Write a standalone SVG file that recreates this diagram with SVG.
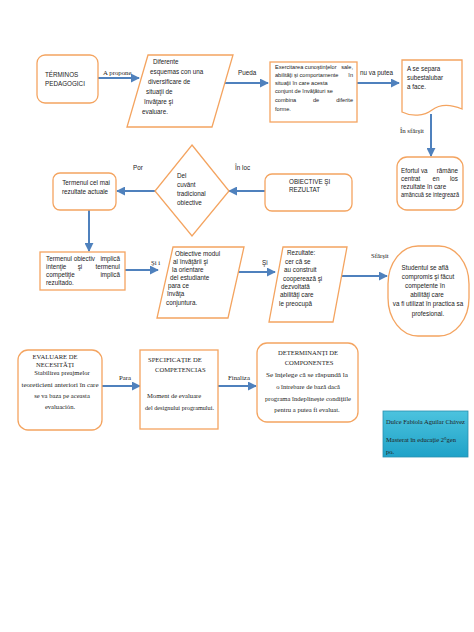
<svg xmlns="http://www.w3.org/2000/svg" width="474" height="632" viewBox="0 0 474 632">
<defs>
<marker id="ah" viewBox="0 0 10 10" refX="9" refY="5" markerWidth="4.5" markerHeight="4.5" orient="auto"><path d="M0,0 L10,5 L0,10 z" fill="#4F81BD"/></marker>
<linearGradient id="tg" x1="0" y1="0" x2="0" y2="1"><stop offset="0" stop-color="#4CC3DE"/><stop offset="1" stop-color="#1FA2C8"/></linearGradient>
</defs>
<style>
.n{fill:#ffffff;stroke:#F4A460;stroke-width:1.3}
.c{fill:none;stroke:#4F81BD;stroke-width:2;marker-end:url(#ah)}
.t{font-family:"Liberation Sans",Arial,sans-serif;font-size:6.3px;fill:#222}
.k{font-size:5.6px}
.e{text-anchor:end}
.m{text-anchor:middle}
.s{font-family:"Liberation Serif","Times New Roman",serif;font-size:6.6px;fill:#222}
.l{font-family:"Liberation Sans",Arial,sans-serif;font-size:6.3px;fill:#222}
.ls{font-family:"Liberation Serif","Times New Roman",serif;font-size:6.8px;fill:#222}
</style>
<rect width="474" height="632" fill="#ffffff"/>
<g id="connectors">
<line class="c" x1="98" y1="78" x2="139" y2="78"/>
<line class="c" x1="225" y1="83" x2="268" y2="83"/>
<line class="c" x1="357" y1="83" x2="399" y2="83"/>
<line class="c" x1="431" y1="114" x2="431" y2="156"/>
<line class="c" x1="265" y1="191" x2="229" y2="191"/>
<line class="c" x1="155" y1="191" x2="117" y2="191"/>
<line class="c" x1="89" y1="210" x2="89" y2="251"/>
<line class="c" x1="125" y1="270" x2="158" y2="270"/>
<line class="c" x1="238" y1="272" x2="275" y2="272"/>
<line class="c" x1="340" y1="276" x2="387" y2="276"/>
<line class="c" x1="102" y1="386" x2="140" y2="386"/>
<line class="c" x1="218" y1="386" x2="256" y2="386"/>
<text class="ls" x="103" y="75">A propone</text>
<text class="l" x="238" y="75">Pueda</text>
<text class="l" x="360" y="75">nu va putea</text>
<text class="ls" x="400" y="133">În sfârşit</text>
<text class="l" x="133" y="170">Por</text>
<text class="l" x="235" y="170">În loc</text>
<text class="ls" x="151" y="265">Şi i</text>
<text class="l" x="262" y="265">Şi</text>
<text class="ls" x="371" y="258">Sfârşit</text>
<text class="ls" x="119" y="380">Para</text>
<text class="ls" x="228" y="380">Finaliza</text>
</g>
<g id="n1"><rect class="n" x="37" y="55" width="61" height="48" rx="8"/>
<text class="t" x="45" y="77">TÉRMINOS</text><text class="t" x="45" y="86">PEDAGOGICI</text></g>
<g id="n2"><polygon class="n" points="148,55 233,55 212,127 127,127"/>
<text class="t"><tspan x="153" y="64">Diferente</tspan><tspan x="150" y="74">esquemas con una</tspan><tspan x="148" y="84">diversificare de</tspan><tspan x="146" y="94">situaţii   de</tspan><tspan x="144" y="104">învăţare   şi</tspan><tspan x="142" y="114">evaluare.</tspan></text></g>
<g id="n3"><rect class="n" x="270" y="62" width="87" height="60"/>
<text class="t k" x="275" y="69">Exercitarea cunoştinţelor</text><text class="t k e" x="353" y="69">sale,</text>
<text class="t k" x="275" y="77">abilităţi  şi  comportamente</text><text class="t k e" x="353" y="77">în</text>
<text class="t k" x="275" y="85">situaţii  în care acesta</text>
<text class="t k" x="275" y="93">conjunt de învăţături   se</text>
<text class="t k" x="275" y="102">combina</text><text class="t k m" x="316" y="102">de</text><text class="t k e" x="353" y="102">diferite</text>
<text class="t k" x="275" y="111">forme.</text></g>
<g id="n4"><path class="n" d="M402,60 H462 V109 C450,104 440,104 432,110 C424,116 412,117 402,112 Z"/>
<text class="t"><tspan x="407" y="71">A se separa</tspan><tspan x="407" y="80">subestalubar</tspan><tspan x="407" y="89">a face.</tspan></text></g>
<g id="n5"><rect class="n" x="397" y="157" width="66" height="53" rx="10"/>
<text class="t" x="401" y="173">Efortul  va</text><text class="t e" x="458" y="173">rămâne</text>
<text class="t" x="401" y="181">centrat</text><text class="t m" x="436" y="181">en</text><text class="t e" x="458" y="181">los</text>
<text class="t" x="401" y="189">rezultate în care</text>
<text class="t" x="401" y="197" textLength="58" lengthAdjust="spacingAndGlyphs">amăncuă se integrează</text></g>
<g id="n6"><rect class="n" x="265" y="174" width="87" height="37" rx="7"/>
<text class="t"><tspan x="289" y="184">OBIECTIVE ŞI</tspan><tspan x="289" y="192">REZULTAT</tspan></text></g>
<g id="n7"><polygon class="n" points="192,145 229,191 192,236 155,191"/>
<text class="t"><tspan x="177" y="178">Del</tspan><tspan x="177" y="187">cuvânt</tspan><tspan x="177" y="196">tradicional</tspan><tspan x="177" y="205">obiective</tspan></text></g>
<g id="n8"><rect class="n" x="53" y="173" width="63" height="37" rx="7"/>
<text class="t m"><tspan x="86" y="185">Termenul cel mai</tspan><tspan x="85" y="194">rezultate actuale</tspan></text></g>
<g id="n9"><rect class="n" x="40" y="252" width="85" height="38"/>
<text class="t" x="46" y="261">Termenul  obiectiv</text><text class="t e" x="120" y="261">implică</text>
<text class="t" x="46" y="269">intenţie</text><text class="t m" x="80" y="269">şi</text><text class="t e" x="120" y="269">termenul</text>
<text class="t" x="46" y="277">competiţie</text><text class="t e" x="120" y="277">implică</text>
<text class="t" x="46" y="285">rezultado.</text></g>
<g id="n10"><polygon class="n" points="173,247 244,247 228,318 157,318"/>
<text class="t"><tspan x="175" y="256">Obiective  modul</tspan><tspan x="173" y="264">al învăţării    şi</tspan><tspan x="172" y="272">la  orientare</tspan><tspan x="170" y="280">del      estudiante</tspan><tspan x="168" y="288">para               ce</tspan><tspan x="167" y="296">învăţa</tspan><tspan x="166" y="305">conjuntura.</tspan></text></g>
<g id="n11"><polygon class="n" points="283,247 347,247 333,322 269,322"/>
<text class="t"><tspan x="287" y="255">Rezultate:</tspan><tspan x="285" y="264">cer că se</tspan><tspan x="284" y="272">au construit</tspan><tspan x="283" y="281">cooperează     şi</tspan><tspan x="281" y="289">dezvoltată</tspan><tspan x="280" y="297">abilităţi   care</tspan><tspan x="279" y="306">le preocupă</tspan></text></g>
<g id="n12"><rect class="n" x="388" y="246" width="81" height="90" rx="30" ry="38"/>
<text class="t m"><tspan x="425" y="270">Studentul se află</tspan><tspan x="428" y="279">compromis şi  făcut</tspan><tspan x="425" y="288">competente în</tspan><tspan x="427" y="297">abilităţi    care</tspan><tspan x="428" y="306">va fi utilizat în practica sa</tspan><tspan x="428" y="316">profesional.</tspan></text></g>
<g id="n13"><rect class="n" x="18" y="350" width="84" height="80" rx="10"/>
<text class="s m"><tspan x="55" y="359">EVALUARE DE</tspan><tspan x="55" y="367">NECESITĂŢI</tspan><tspan x="62" y="375">Stabilirea preajmelor</tspan><tspan x="60" y="387" textLength="77" lengthAdjust="spacingAndGlyphs">teoreticieni anteriori în care</tspan><tspan x="62" y="398">se va baza pe aceasta</tspan><tspan x="60" y="409">evaluación.</tspan></text></g>
<g id="n14"><rect class="n" x="140" y="350" width="78" height="79"/>
<text class="s"><tspan x="148" y="362">SPECIFICAŢIE   DE</tspan><tspan x="155" y="372">COMPETENCIAS</tspan><tspan x="147" y="398">Moment de evaluare</tspan><tspan x="145" y="410" textLength="69" lengthAdjust="spacingAndGlyphs">del designului programului.</tspan></text></g>
<g id="n15"><rect class="n" x="257" y="343" width="101" height="79" rx="10"/>
<text class="s m"><tspan x="308" y="355">DETERMINANŢI DE</tspan><tspan x="309" y="365">COMPONENTES</tspan><tspan x="307" y="377" textLength="82" lengthAdjust="spacingAndGlyphs">Se înţelege că se răspundă la</tspan><tspan x="308" y="389">o întrebare de bază dacă</tspan><tspan x="308" y="401" textLength="86" lengthAdjust="spacingAndGlyphs">programa îndeplineşte condiţiile</tspan><tspan x="307" y="412">pentru a putea fi evaluat.</tspan></text></g>
<g id="n16"><rect x="383" y="411" width="85" height="46" fill="url(#tg)" stroke="#2A8FB0" stroke-width="0.8"/>
<text class="s" font-size="6.3"><tspan x="386" y="424" textLength="79" lengthAdjust="spacingAndGlyphs">Dulce Fabiola Aguilar Chávez</tspan><tspan x="386" y="442" textLength="70" lengthAdjust="spacingAndGlyphs">Masterat în educaţie 2°gen</tspan><tspan x="386" y="454">po.</tspan></text></g>
</svg>
